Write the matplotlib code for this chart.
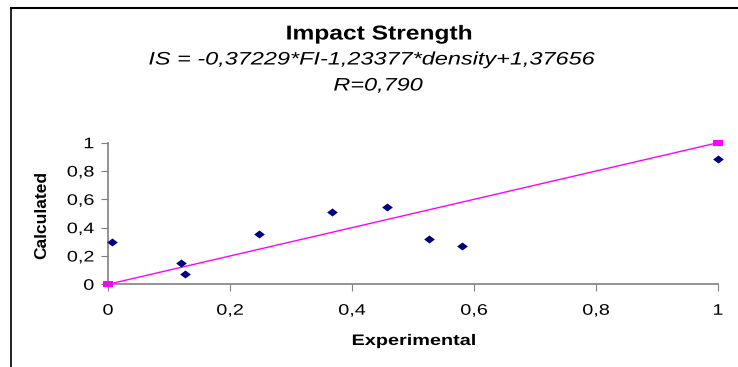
import numpy as np
import matplotlib.pyplot as plt
from matplotlib.ticker import FuncFormatter
from matplotlib.lines import Line2D
from matplotlib.patheffects import AbstractPathEffect
from matplotlib.transforms import Affine2D
from matplotlib.path import Path

# Data
experimental = [0.006, 0.119, 0.127, 0.248, 0.368, 0.457, 0.527, 0.581, 1.0]
calculated = [0.30, 0.148, 0.073, 0.355, 0.508, 0.546, 0.32, 0.273, 0.887]
ideal_x = [0, 1]
ideal_y = [0, 1]
ticks = [0, 0.2, 0.4, 0.6, 0.8, 1]

plt.rcParams['font.family'] = ['Liberation Sans', 'DejaVu Sans']


# the original picture is stretched sideways, so widen the glyphs the same way
class Stretch(AbstractPathEffect):
    def __init__(self, sx, anchor='center'):
        super().__init__()
        self.sx = sx
        self.anchor = anchor

    def draw_path(self, renderer, gc, tpath, affine, rgbFace=None):
        ext = tpath.get_extents()
        cx = {'left': ext.x0, 'right': ext.x1}.get(self.anchor, (ext.x0 + ext.x1) / 2)
        t = Affine2D().translate(-cx, 0).scale(self.sx, 1).translate(cx, 0) + affine
        renderer.draw_path(gc, tpath, t, rgbFace)


W, H = 738, 367
fig = plt.figure(figsize=(W / 100, H / 100), dpi=100)

# outer frame (top and left only, like the cropped original)
fig.add_artist(Line2D([10.5 / W, 1], [1 - 7.5 / H, 1 - 7.5 / H], color='black', lw=1.5))
fig.add_artist(Line2D([10.5 / W, 10.5 / W], [0, 1 - 7.5 / H], color='black', lw=1.2))

diamond = Path([(-1, 0), (0, 0.75), (1, 0), (0, -0.75), (-1, 0)],
               [Path.MOVETO, Path.LINETO, Path.LINETO, Path.LINETO, Path.CLOSEPOLY])
rect = Path([(-1, -0.7), (1, -0.7), (1, 0.7), (-1, 0.7), (-1, -0.7)],
            [Path.MOVETO, Path.LINETO, Path.LINETO, Path.LINETO, Path.CLOSEPOLY])

ax = fig.add_axes([108 / W, 1 - 284.3 / H, 610 / W, 141.6 / H])
ax.plot(ideal_x, ideal_y, color='#FF00FF', lw=1, marker=rect, ms=6.5, mew=0,
        clip_on=False, zorder=3)
ax.plot(experimental, calculated, ls='none', marker=diamond, ms=7.7, mew=0,
        color='#000080', clip_on=False, zorder=4)

ax.set_xlim(0, 1)
ax.set_ylim(0, 1)
ax.set_xticks(ticks)
ax.set_yticks(ticks)
fmt = FuncFormatter(lambda v, p: ('%g' % v).replace('.', ','))
ax.xaxis.set_major_formatter(fmt)
ax.yaxis.set_major_formatter(fmt)
for s in ['top', 'right']:
    ax.spines[s].set_visible(False)
for s in ['left', 'bottom']:
    ax.spines[s].set_color('#808080')
    ax.spines[s].set_linewidth(1.2)
ax.tick_params(axis='x', length=5, color='#808080', labelsize=11, pad=9)
ax.tick_params(axis='y', length=5, color='#808080', labelsize=11, pad=5)
for lab in ax.get_xticklabels():
    lab.set_path_effects([Stretch(1.3)])
for lab in ax.get_yticklabels():
    lab.set_path_effects([Stretch(1.3, 'right')])

fig.text(379 / W, 1 - 34 / H, 'Impact Strength', ha='center', va='center',
         fontsize=14.5, fontweight='bold', path_effects=[Stretch(1.22)])
fig.text(371 / W, 1 - 60 / H, 'IS = -0,37229*FI-1,23377*density+1,37656', ha='center',
         va='center', fontsize=13, style='italic', path_effects=[Stretch(1.3)])
fig.text(378 / W, 1 - 86 / H, 'R=0,790', ha='center', va='center', fontsize=13,
         style='italic', path_effects=[Stretch(1.3)])

fig.text(414 / W, 1 - 341 / H, 'Experimental', ha='center', va='center',
         fontsize=11, fontweight='bold', path_effects=[Stretch(1.3)])
fig.text(42 / W, 1 - 215 / H, 'Calculated', ha='center', va='center',
         fontsize=12.5, fontweight='bold', rotation=90)

fig.savefig('out.png', dpi=100)
